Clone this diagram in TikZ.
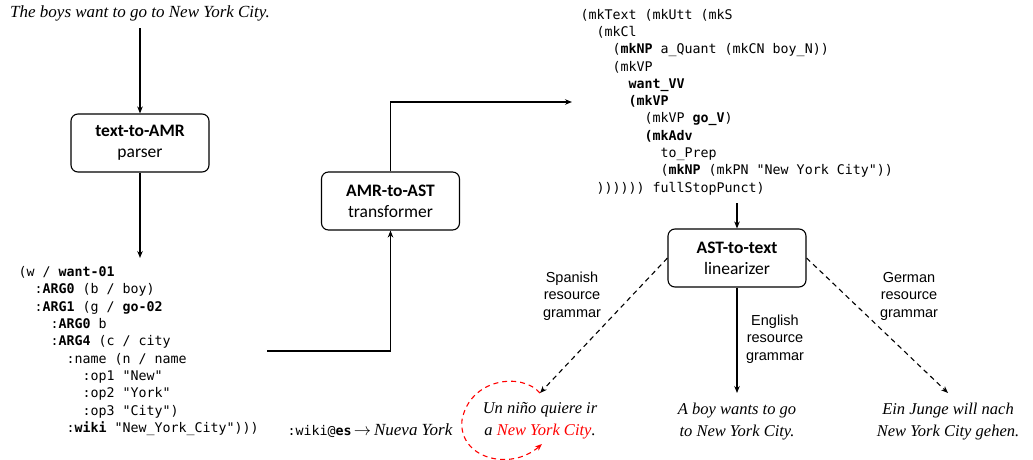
\documentclass[tikz,border=0pt]{standalone}
\usepackage{fontspec}
\setmainfont{Liberation Serif}
\setmonofont{DejaVu Sans Mono}
\newfontfamily\boxfont{Carlito}
\newfontfamily\lblfont{Liberation Sans}
\usetikzlibrary{arrows.meta}
\newcommand{\myind}[1]{\hspace*{#1\fontcharwd\font`0}}
\begin{document}
\begin{tikzpicture}[x=1pt, y=-1pt, line width=1.1pt,
  >={Stealth[length=7pt,width=5.5pt]},
  proc/.style={draw, rounded corners=7pt, minimum width=138pt, minimum height=58pt,
    align=center, inner sep=2pt, font=\boxfont\fontsize{17.5}{21}\selectfont},
  code/.style={align=left, inner sep=8pt, font=\ttfamily\fontsize{13.3}{17.3}\selectfont},
  sentence/.style={align=center, inner xsep=2pt, inner ysep=9pt,
    font=\itshape\fontsize{16.5}{22}\selectfont},
  lbl/.style={align=center, inner sep=1pt, font=\lblfont\fontsize{14.5}{17.5}\selectfont},
  dashpat/.style={dash pattern=on 5pt off 4pt}]
\useasboundingbox (0,0) rectangle (1033,460);

\node[sentence, inner ysep=7pt, font=\itshape\fontsize{17}{22}\selectfont] (src) at (140,13)
  {The boys want to go to New York City.};
\node[proc] (t2a) at (140,143) {\textbf{text-to-AMR}\\parser};
\node[proc] (a2a) at (390.5,201) {\textbf{AMR-to-AST}\\transformer};
\node[proc] (a2t) at (737,258) {\textbf{AST-to-text}\\linearizer};

\node[code, anchor=north west] (amr) at (10,258) {%
(w / \textbf{want-01}\\
\myind{2}:\textbf{ARG0} (b / boy)\\
\myind{2}:\textbf{ARG1} (g / \textbf{go-02}\\
\myind{4}:\textbf{ARG0} b\\
\myind{4}:\textbf{ARG4} (c / city\\
\myind{6}:name (n / name\\
\myind{8}:op1 "New"\\
\myind{8}:op2 "York"\\
\myind{8}:op3 "City")\\
\myind{6}:\textbf{wiki} "New\_York\_City")))};

\node[code, anchor=west] (ast) at (572,102) {%
(mkText (mkUtt (mkS\\
\myind{2}(mkCl\\
\myind{4}(\textbf{mkNP} a\_Quant (mkCN boy\_N))\\
\myind{4}(mkVP\\
\myind{6}\textbf{want\_VV}\\
\myind{6}\textbf{(mkVP}\\
\myind{8}(mkVP \textbf{go\_V})\\
\myind{8}\textbf{(mkAdv}\\
\myind{10}to\_Prep\\
\myind{10}(\textbf{mkNP} (mkPN "New York City"))\\
\myind{2})))))) fullStopPunct)};

\node[sentence, anchor=north] (es) at (540,393) {Un niño quiere ir\\a \textcolor{red}{New York City}.};
\node[sentence, anchor=north] (en) at (737,393) {A boy wants to go\\to New York City.};
\node[sentence, anchor=north] (de) at (948,393) {Ein Junge will nach\\New York City gehen.};

\node[lbl] (les) at (572,296) {Spanish\\resource\\grammar};
\node[lbl] (len) at (775,339) {English\\resource\\grammar};
\node[lbl] (lde) at (909,296) {German\\resource\\grammar};

\node[anchor=base, inner sep=1pt] (wiki) at (370,435)
  {\ttfamily\fontsize{13.3}{16}\selectfont :wiki@\textbf{es}\,\rmfamily\itshape\fontsize{17}{20}\selectfont$\rightarrow$\,Nueva York};

\coordinate (loopend) at (542,444);

\draw[->] (src.south) -- (t2a.north);
\draw[->] (t2a.south) -- (t2a.south |- amr.north);
\draw[->] (amr.east) -| (a2a.south);
\draw[->] (a2a.north) |- (ast.west);
\draw[->] (ast.south -| a2t.north) -- (a2t.north);
\draw[->, dashpat] (a2t.west) -- (es.north);
\draw[->] (a2t.south) -- (en.north);
\draw[->, dashpat] (a2t.east) -- (de.north);
\draw[->, red, dashpat] (es.north) .. controls (522,372) and (470,378) .. (462,420)
  .. controls (458,458) and (510,472) .. (loopend);
\end{tikzpicture}
\end{document}
